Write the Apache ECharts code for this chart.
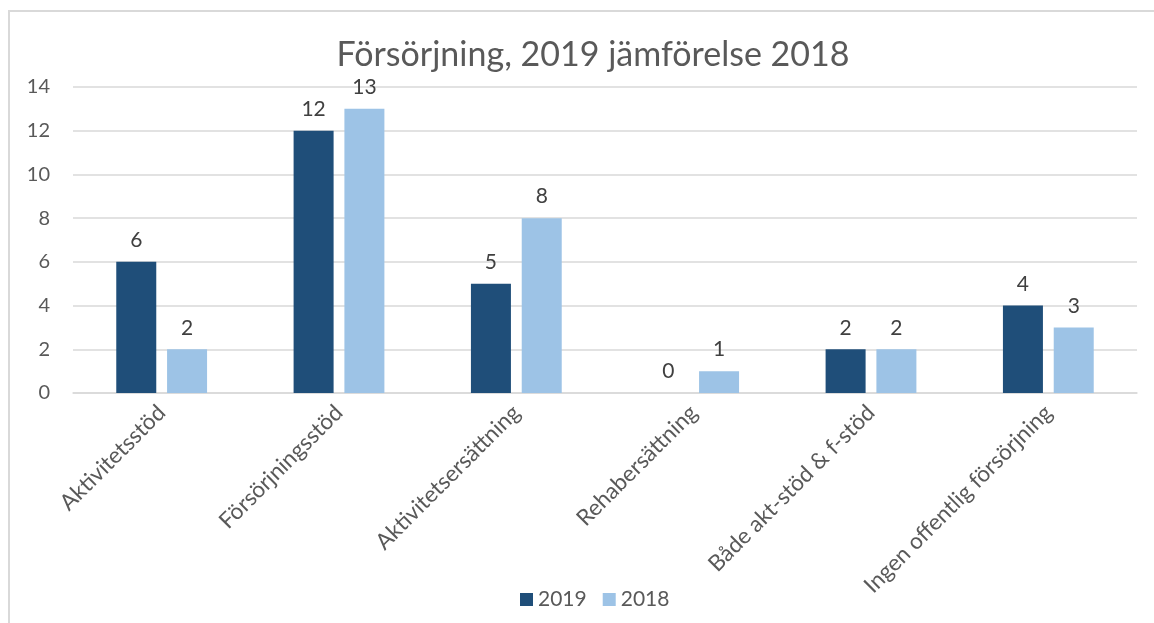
<!DOCTYPE html>
<html>
<head>
<meta charset="utf-8">
<script src="https://cdn.jsdelivr.net/npm/echarts@6/dist/echarts.min.js"></script>
<style>
  html, body { margin: 0; padding: 0; background: #fff; }
  #frame {
    position: absolute; left: 8px; top: 10px; width: 1200px; height: 700px;
    border-left: 2px solid #d9d9d9; border-top: 2px solid #d9d9d9;
  }
  #chart { position: absolute; left: 0; top: 0; width: 1154px; height: 623px; }
</style>
</head>
<body>
<div id="frame"></div>
<div id="chart"></div>
<script>
// data
const categories = [
  'Aktivitetsstöd',
  'Försörjningsstöd',
  'Aktivitetsersättning',
  'Rehabersättning',
  'Både akt-stöd & f-stöd',
  'Ingen offentlig försörjning'
];
const values2019 = [6, 12, 5, 0, 2, 4];
const values2018 = [2, 13, 8, 1, 2, 3];
const yTicks = [0, 2, 4, 6, 8, 10, 12, 14];

const font = 'Lato, "Open Sans", sans-serif';
const textColor = '#595959';

document.addEventListener('DOMContentLoaded', () => {
  const myChart = echarts.init(document.getElementById('chart'));

  const barLabel = {
    show: true,
    position: 'top',
    distance: 11,
    color: '#404040',
    fontSize: 21,
    fontFamily: font
  };

  const option = {
    backgroundColor: 'transparent',
    animation: false,
    title: {
      text: 'Försörjning, 2019 jämförelse 2018',
      left: 588,
      top: 33,
      textAlign: 'center',
      textStyle: {
        color: textColor,
        fontSize: 34,
        fontWeight: 'normal',
        fontFamily: font
      }
    },
    legend: {
      left: 515,
      top: 584,
      itemWidth: 13,
      itemHeight: 13,
      itemGap: 16,
      icon: 'rect',
      textStyle: { color: textColor, fontSize: 21, fontFamily: font },
      data: ['2019', '2018']
    },
    grid: {
      left: 73,
      right: 17,
      top: 87,
      bottom: 230
    },
    xAxis: {
      type: 'category',
      data: categories,
      axisLine: { lineStyle: { color: '#d9d9d9', width: 1.5 } },
      axisTick: { show: false },
      axisLabel: {
        rotate: 45,
        interval: 0,
        margin: 16,
        color: textColor,
        fontSize: 22.5,
        fontFamily: font
      }
    },
    yAxis: {
      type: 'value',
      min: yTicks[0],
      max: yTicks[yTicks.length - 1],
      interval: 2,
      axisLine: { show: false },
      axisTick: { show: false },
      axisLabel: {
        margin: 23,
        color: textColor,
        fontSize: 20,
        fontFamily: font
      },
      splitLine: { lineStyle: { color: '#d9d9d9', width: 1.5 } }
    },
    series: [
      {
        name: '2019',
        type: 'bar',
        barWidth: 40,
        barGap: '27%',
        itemStyle: { color: '#1F4E79' },
        label: barLabel,
        data: values2019
      },
      {
        name: '2018',
        type: 'bar',
        barWidth: 40,
        barGap: '27%',
        itemStyle: { color: '#9DC3E6' },
        label: barLabel,
        data: values2018
      }
    ]
  };

  myChart.setOption(option);
});
</script>
</body>
</html>
